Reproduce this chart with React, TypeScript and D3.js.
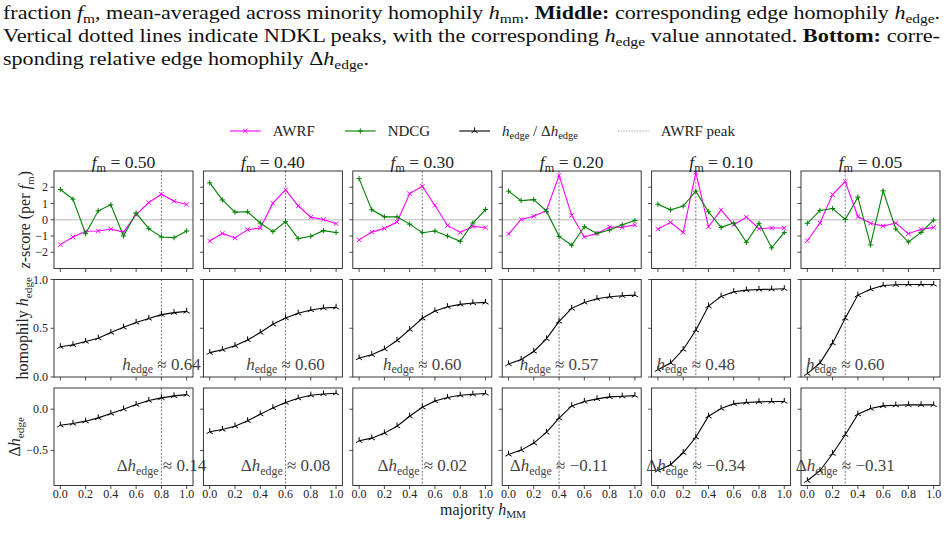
import React from 'react';
import * as d3 from 'd3';

// ---------- data ----------
const hMM = [0, 0.1, 0.2, 0.3, 0.4, 0.5, 0.6, 0.7, 0.8, 0.9, 1.0];
const xTicks = [0, 0.2, 0.4, 0.6, 0.8, 1.0];
const fmLabels = ['0.50', '0.40', '0.30', '0.20', '0.10', '0.05'];
const peakX = [0.8, 0.6, 0.5, 0.4, 0.3, 0.3];
const hAnnot = ['0.64', '0.60', '0.60', '0.57', '0.48', '0.60'];
const dAnnot = ['0.14', '0.08', '0.02', '\u22120.11', '\u22120.34', '\u22120.31'];

const awrf050 = [-1.53, -1.06, -0.71, -0.69, -0.57, -0.76, 0.31, 1.06, 1.57, 1.14, 0.94];
const ndcg050 = [1.86, 1.27, -0.86, 0.55, 0.92, -1.0, 0.41, -0.55, -1.06, -1.1, -0.69];
const awrf040 = [-1.31, -0.84, -1.12, -0.61, -0.51, 1.02, 1.84, 0.86, 0.16, 0.02, -0.24];
const ndcg040 = [2.27, 1.22, 0.47, 0.49, -0.2, -0.73, -0.12, -1.16, -1.02, -0.67, -0.78];
const awrf030 = [-1.24, -0.76, -0.53, -0.14, 1.61, 2.06, 0.88, -0.35, -0.78, -0.41, -0.49];
const ndcg030 = [2.53, 0.61, 0.18, 0.18, -0.27, -0.8, -0.69, -1.0, -1.33, -0.2, 0.63];
const awrf020 = [-0.88, 0.02, 0.22, 0.57, 2.73, 0.27, -1.06, -0.84, -0.45, -0.47, -0.31];
const ndcg020 = [1.76, 1.18, 1.24, 0.53, -1.02, -1.57, -0.43, -0.84, -0.63, -0.31, -0.04];
const awrf010 = [-0.57, -0.16, -0.78, 2.92, -0.43, 0.61, -0.31, 0.16, -0.55, -0.51, -0.51];
const ndcg010 = [0.96, 0.61, 0.84, 1.76, 0.49, -0.47, -0.2, -1.39, -0.22, -1.73, -0.78];
const awrf005 = [-1.29, -0.2, 1.55, 2.35, 0.2, -0.22, -0.39, -0.2, -0.86, -0.59, -0.47];
const ndcg005 = [-0.22, 0.57, 0.69, 0.02, 1.39, -1.55, 1.78, -0.57, -1.37, -0.78, -0.02];

const hEdge050 = [0.31, 0.33, 0.364, 0.398, 0.456, 0.51, 0.56, 0.6, 0.64, 0.66, 0.673];
const hEdge040 = [0.25, 0.28, 0.32, 0.38, 0.456, 0.54, 0.605, 0.653, 0.687, 0.707, 0.714];
const hEdge030 = [0.194, 0.228, 0.286, 0.374, 0.486, 0.602, 0.677, 0.721, 0.745, 0.759, 0.765];
const hEdge020 = [0.133, 0.18, 0.262, 0.391, 0.57, 0.704, 0.765, 0.803, 0.823, 0.833, 0.84];
const hEdge010 = [0.075, 0.143, 0.282, 0.48, 0.728, 0.827, 0.874, 0.891, 0.898, 0.9, 0.905];
const hEdge005 = [0.034, 0.143, 0.347, 0.602, 0.84, 0.9, 0.939, 0.946, 0.949, 0.949, 0.949];

const dEdge050 = [-0.194, -0.173, -0.145, -0.105, -0.052, 0.0, 0.056, 0.105, 0.137, 0.161, 0.177];
const dEdge040 = [-0.274, -0.246, -0.206, -0.141, -0.06, 0.016, 0.081, 0.133, 0.169, 0.185, 0.194];
const dEdge030 = [-0.383, -0.351, -0.29, -0.206, -0.085, 0.024, 0.1, 0.141, 0.169, 0.181, 0.19];
const dEdge020 = [-0.548, -0.496, -0.411, -0.282, -0.109, 0.04, 0.093, 0.125, 0.149, 0.157, 0.165];
const dEdge010 = [-0.742, -0.673, -0.528, -0.34, -0.085, 0.008, 0.065, 0.081, 0.089, 0.093, 0.093];
const dEdge005 = [-0.867, -0.746, -0.54, -0.31, -0.06, 0.008, 0.04, 0.048, 0.052, 0.052, 0.052];

const awrfSeries = [awrf050, awrf040, awrf030, awrf020, awrf010, awrf005];
const ndcgSeries = [ndcg050, ndcg040, ndcg030, ndcg020, ndcg010, ndcg005];
const hEdgeSeries = [hEdge050, hEdge040, hEdge030, hEdge020, hEdge010, hEdge005];
const dEdgeSeries = [dEdge050, dEdge040, dEdge030, dEdge020, dEdge010, dEdge005];

// ---------- layout ----------
const W = 947;
const H = 543;
const FONT = '"Liberation Serif", "DejaVu Serif", serif';
const MAGENTA = '#ff00ff';
const GREEN = '#008000';
const TEXT = '#222';

const colLeft = 54;
const colStep = 149.4;
const panelW = 139;
const rowsCfg = [
  { top: 171, h: 97.5, domain: [-3, 3], ticks: [-2, -1, 0, 1, 2], fmt: (d: number) => (d < 0 ? '\u2212' + Math.abs(d) : String(d)) },
  { top: 279.5, h: 97.5, domain: [0, 1], ticks: [0, 0.5, 1.0], fmt: (d: number) => d.toFixed(1) },
  { top: 388, h: 97.5, domain: [-0.925, 0.257], ticks: [-0.5, 0.0], fmt: (d: number) => (d < 0 ? '\u2212' + Math.abs(d).toFixed(1) : d.toFixed(1)) },
];

type Seg = { t: string; it?: boolean; sub?: boolean; bold?: boolean };

function MText({ segs, fs, ...rest }: { segs: Seg[]; fs: number; [k: string]: any }) {
  let inSub = false;
  const kids = segs.map((s, i) => {
    let dy = 0;
    if (s.sub && !inSub) dy = fs * 0.22;
    if (!s.sub && inSub) dy = -fs * 0.22;
    inSub = !!s.sub;
    return (
      <tspan
        key={i}
        dy={dy !== 0 ? dy : undefined}
        fontStyle={s.it ? 'italic' : 'normal'}
        fontWeight={s.bold ? 'bold' : 'normal'}
        fontSize={s.sub ? fs * 0.7 : fs}
      >
        {s.t}
      </tspan>
    );
  });
  return (
    <text fontFamily={FONT} fontSize={fs} {...rest}>
      {kids}
    </text>
  );
}

const markerX = 'M-2.2,-2.2L2.2,2.2M-2.2,2.2L2.2,-2.2';
const markerPlus = 'M-2.6,0H2.6M0,-2.6V2.6';
const markerTri = 'M0,0V-3.6M0,0L-3.1,1.8M0,0L3.1,1.8';

function Series({ xs, ys, x, y, color, marker }: any) {
  const line = d3
    .line<number>()
    .x((_, i) => x(xs[i]))
    .y((d) => y(d));
  return (
    <g>
      <path d={line(ys) || ''} fill="none" stroke={color} strokeWidth={1.1} />
      {ys.map((v: number, i: number) => (
        <path
          key={i}
          d={marker}
          transform={`translate(${x(xs[i])},${y(v)})`}
          fill="none"
          stroke={color}
          strokeWidth={1}
        />
      ))}
    </g>
  );
}

function Panel({ col, row }: { col: number; row: number }) {
  const cfg = rowsCfg[row];
  const left = colLeft + col * colStep;
  const x = d3.scaleLinear().domain([-0.05, 1.05]).range([left, left + panelW]);
  const y = d3.scaleLinear().domain(cfg.domain).range([cfg.top + cfg.h, cfg.top]);
  const bottom = cfg.top + cfg.h;
  const px = x(peakX[col]);
  return (
    <g>
      <defs>
        <clipPath id={`clip-${row}-${col}`}>
          <rect x={left} y={cfg.top} width={panelW} height={cfg.h} />
        </clipPath>
      </defs>
      {row === 0 && (
        <line x1={left} x2={left + panelW} y1={y(0)} y2={y(0)} stroke="#cfcfcf" strokeWidth={1.4} />
      )}
      <line x1={px} x2={px} y1={cfg.top} y2={bottom} stroke="#555" strokeWidth={0.8} strokeDasharray="2 1.6" />
      <g clipPath={`url(#clip-${row}-${col})`}>
        {row === 0 && (
          <>
            <Series xs={hMM} ys={awrfSeries[col]} x={x} y={y} color={MAGENTA} marker={markerX} />
            <Series xs={hMM} ys={ndcgSeries[col]} x={x} y={y} color={GREEN} marker={markerPlus} />
          </>
        )}
        {row === 1 && <Series xs={hMM} ys={hEdgeSeries[col]} x={x} y={y} color="#000" marker={markerTri} />}
        {row === 2 && <Series xs={hMM} ys={dEdgeSeries[col]} x={x} y={y} color="#000" marker={markerTri} />}
      </g>
      {row === 1 && (
        <MText
          fs={17}
          x={px}
          y={y(0.075)}
          textAnchor="middle"
          fill="#444"
          segs={[{ t: 'h', it: true }, { t: 'edge', sub: true }, { t: ' \u2248 ' + hAnnot[col] }]}
        />
      )}
      {row === 2 && (
        <MText
          fs={17}
          x={px}
          y={y(-0.755)}
          textAnchor="middle"
          fill="#444"
          segs={[{ t: '\u0394' }, { t: 'h', it: true }, { t: 'edge', sub: true }, { t: ' \u2248 ' + dAnnot[col] }]}
        />
      )}
      <rect x={left} y={cfg.top} width={panelW} height={cfg.h} fill="none" stroke="#222" strokeWidth={0.9} />
      {cfg.ticks.map((t) => (
        <g key={'y' + t}>
          <line x1={left - 3.5} x2={left} y1={y(t)} y2={y(t)} stroke="#222" strokeWidth={0.8} />
          {col === 0 && (
            <text x={left - 6} y={y(t) + 4} textAnchor="end" fontFamily={FONT} fontSize={12} fill={TEXT}>
              {cfg.fmt(t)}
            </text>
          )}
        </g>
      ))}
      {xTicks.map((t) => (
        <g key={'x' + t}>
          <line x1={x(t)} x2={x(t)} y1={bottom} y2={bottom + 3.5} stroke="#222" strokeWidth={0.8} />
          {row === 2 && (
            <text x={x(t)} y={bottom + 12.8} textAnchor="middle" fontFamily={FONT} fontSize={12} fill={TEXT}>
              {t.toFixed(1)}
            </text>
          )}
        </g>
      ))}
      {row === 0 && (
        <MText
          fs={17.5}
          x={left + panelW / 2}
          y={cfg.top - 3}
          textAnchor="middle"
          fill={TEXT}
          segs={[{ t: 'f', it: true }, { t: 'm', sub: true }, { t: ' = ' + fmLabels[col] }]}
        />
      )}
    </g>
  );
}

function Caption() {
  const fs = 18.5;
  return (
    <g fill="#111">
      <MText
        fs={fs}
        x={3}
        y={19}
        textLength={937}
        lengthAdjust="spacingAndGlyphs"
        segs={[
          { t: 'fraction ' },
          { t: 'f', it: true },
          { t: 'm', sub: true },
          { t: ', mean-averaged across minority homophily ' },
          { t: 'h', it: true },
          { t: 'mm', sub: true },
          { t: '. ' },
          { t: 'Middle:', bold: true },
          { t: ' corresponding edge homophily ' },
          { t: 'h', it: true },
          { t: 'edge', sub: true },
          { t: '.' },
        ]}
      />
      <MText
        fs={fs}
        x={3}
        y={42}
        textLength={937}
        lengthAdjust="spacingAndGlyphs"
        segs={[
          { t: 'Vertical dotted lines indicate NDKL peaks, with the corresponding ' },
          { t: 'h', it: true },
          { t: 'edge', sub: true },
          { t: ' value annotated. ' },
          { t: 'Bottom:', bold: true },
          { t: ' corre-' },
        ]}
      />
      <MText
        fs={fs}
        x={3}
        y={65}
        textLength={366}
        lengthAdjust="spacingAndGlyphs"
        segs={[
          { t: 'sponding relative edge homophily ' },
          { t: '\u0394' },
          { t: 'h', it: true },
          { t: 'edge', sub: true },
          { t: '.' },
        ]}
      />
    </g>
  );
}

function Legend() {
  const ly = 131;
  const fs = 15;
  const items = [
    { x0: 230, color: MAGENTA, marker: markerX, label: [{ t: 'AWRF' }] as Seg[], dash: undefined as any },
    { x0: 345, color: GREEN, marker: markerPlus, label: [{ t: 'NDCG' }] as Seg[], dash: undefined },
    {
      x0: 459.3,
      color: '#000',
      marker: markerTri,
      label: [
        { t: 'h', it: true },
        { t: 'edge', sub: true },
        { t: ' / \u0394' },
        { t: 'h', it: true },
        { t: 'edge', sub: true },
      ] as Seg[],
      dash: undefined,
    },
    { x0: 618, color: '#999', marker: null, label: [{ t: 'AWRF peak' }] as Seg[], dash: '1.5 1.2' },
  ];
  return (
    <g>
      {items.map((it, i) => (
        <g key={i}>
          <line
            x1={it.x0}
            x2={it.x0 + 30.7}
            y1={ly}
            y2={ly}
            stroke={it.color}
            strokeWidth={it.dash ? 0.8 : 1.1}
            strokeDasharray={it.dash}
          />
          {it.marker && (
            <path d={it.marker} transform={`translate(${it.x0 + 15.3},${ly})`} fill="none" stroke={it.color} strokeWidth={1} />
          )}
          <MText fs={fs} x={it.x0 + 42.7} y={ly + 5} fill={TEXT} segs={it.label} />
        </g>
      ))}
    </g>
  );
}

export default function App() {
  const rowCenters = rowsCfg.map((r) => r.top + r.h / 2);
  return (
    <svg
      width={W}
      height={H}
      viewBox={`0 0 ${W} ${H}`}
      fontFamily={FONT}
      style={{ position: 'absolute', left: 0, top: 0, background: '#fff' }}
    >
      <rect x={0} y={0} width={W} height={H} fill="#fff" />
      <Caption />
      <Legend />
      {rowsCfg.map((_, r) =>
        fmLabels.map((__, c) => <Panel key={`${r}-${c}`} row={r} col={c} />)
      )}
      <MText
        fs={16}
        transform={`translate(30,${rowCenters[0]}) rotate(-90)`}
        textAnchor="middle"
        fill={TEXT}
        segs={[{ t: 'z', it: true }, { t: '-score (per ' }, { t: 'f', it: true }, { t: 'm', sub: true }, { t: ')' }]}
      />
      <MText
        fs={16}
        transform={`translate(28,${rowCenters[1]}) rotate(-90)`}
        textAnchor="middle"
        fill={TEXT}
        segs={[{ t: 'homophily ' }, { t: 'h', it: true }, { t: 'edge', sub: true }]}
      />
      <MText
        fs={16}
        transform={`translate(20,${rowCenters[2]}) rotate(-90)`}
        textAnchor="middle"
        fill={TEXT}
        segs={[{ t: '\u0394' }, { t: 'h', it: true }, { t: 'edge', sub: true }]}
      />
      <MText
        fs={16}
        x={483}
        y={514.5}
        textAnchor="middle"
        fill={TEXT}
        segs={[{ t: 'majority ' }, { t: 'h', it: true }, { t: 'MM', sub: true }]}
      />
    </svg>
  );
}
